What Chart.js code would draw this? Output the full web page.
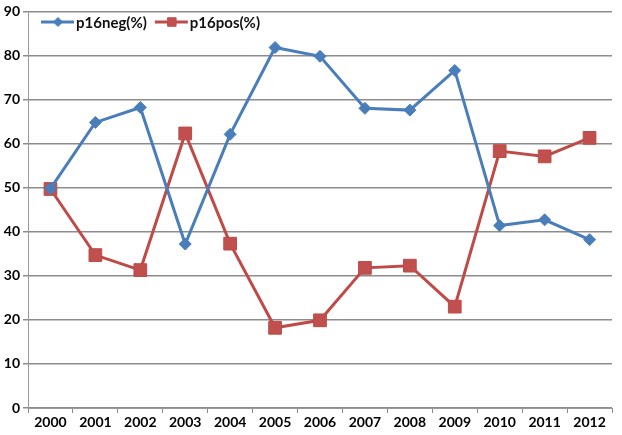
<!DOCTYPE html>
<html lang="en">
<head>
  <meta charset="UTF-8">
  <title>p16 neg / pos</title>
  <script src="https://cdn.jsdelivr.net/npm/chart.js"></script>
  <style>
    body { margin: 0; background: #fff; }
    #wrap { width: 622px; height: 435px; }
  </style>
</head>
<body>
  <div id="wrap"><canvas id="p16Chart" width="622" height="435"></canvas></div>

  <script>
    const years = ['2000', '2001', '2002', '2003', '2004', '2005', '2006',
                   '2007', '2008', '2009', '2010', '2011', '2012'];
    const p16neg = [49.8, 64.8, 68.2, 37.2, 62.1, 81.8, 79.8, 68.0, 67.6, 76.6, 41.4, 42.7, 38.2];
    const p16pos = [49.7, 34.7, 31.3, 62.3, 37.3, 18.2, 19.9, 31.8, 32.3, 23.0, 58.3, 57.1, 61.3];
    const yTicks = [0, 10, 20, 30, 40, 50, 60, 70, 80, 90];

    const axisFont = { family: 'Lato', size: 14, weight: 'bold' };

    // legend drawn inside the plot, top left
    const innerLegend = {
      id: 'innerLegend',
      afterDraw(chart) {
        const ctx = chart.ctx;
        const y = 22;
        let x = 41;
        ctx.save();
        ctx.font = 'bold 15px Lato';
        ctx.textBaseline = 'middle';
        chart.data.datasets.forEach(ds => {
          ctx.strokeStyle = ds.borderColor;
          ctx.lineWidth = 3;
          ctx.beginPath();
          ctx.moveTo(x, y);
          ctx.lineTo(x + 33, y);
          ctx.stroke();
          ctx.fillStyle = ds.backgroundColor;
          ctx.lineWidth = 1;
          Chart.helpers.drawPoint(ctx, {
            pointStyle: ds.pointStyle,
            radius: ds.pointStyle === 'rect' ? 6 : 4.5,
            borderWidth: 1
          }, x + 17, y);
          ctx.fillStyle = '#111';
          ctx.fillText(ds.label, x + 35, y + 1);
          x += 35 + ctx.measureText(ds.label).width + 8;
        });
        ctx.restore();
      }
    };

    const ctx = document.getElementById('p16Chart').getContext('2d');
    new Chart(ctx, {
      type: 'line',
      data: {
        labels: years,
        datasets: [{
          label: 'p16neg(%)',
          data: p16neg,
          borderColor: '#4A7EBB',
          backgroundColor: '#4A7EBB',
          borderWidth: 3,
          pointStyle: 'rectRot',
          pointRadius: 6,
          pointBorderWidth: 1,
          tension: 0
        }, {
          label: 'p16pos(%)',
          data: p16pos,
          borderColor: '#BE4B48',
          backgroundColor: '#C0504D',
          borderWidth: 3,
          pointStyle: 'rect',
          pointRadius: 9,
          pointBorderWidth: 1,
          tension: 0
        }]
      },
      options: {
        responsive: false,
        animation: false,
        layout: { padding: { top: 4, right: 1, left: 0, bottom: 0 } },
        plugins: {
          legend: { display: false },
          tooltip: { enabled: false }
        },
        scales: {
          x: {
            offset: true,
            grid: {
              offset: true,
              drawOnChartArea: false,
              color: '#888',
              tickLength: 5
            },
            border: { color: '#999' },
            ticks: { color: '#000', font: axisFont, padding: 1, maxRotation: 0 },
            afterFit(scale) { scale.height = 27; }
          },
          y: {
            min: 0,
            max: 90,
            afterBuildTicks(scale) { scale.ticks = yTicks.map(v => ({ value: v })); },
            grid: { color: '#8c8c8c', lineWidth: 1.5, tickLength: 5 },
            border: { color: '#999' },
            ticks: { color: '#000', font: axisFont, padding: 3 },
            afterFit(scale) { scale.width = 28; }
          }
        }
      },
      plugins: [innerLegend]
    });
  </script>
</body>
</html>
